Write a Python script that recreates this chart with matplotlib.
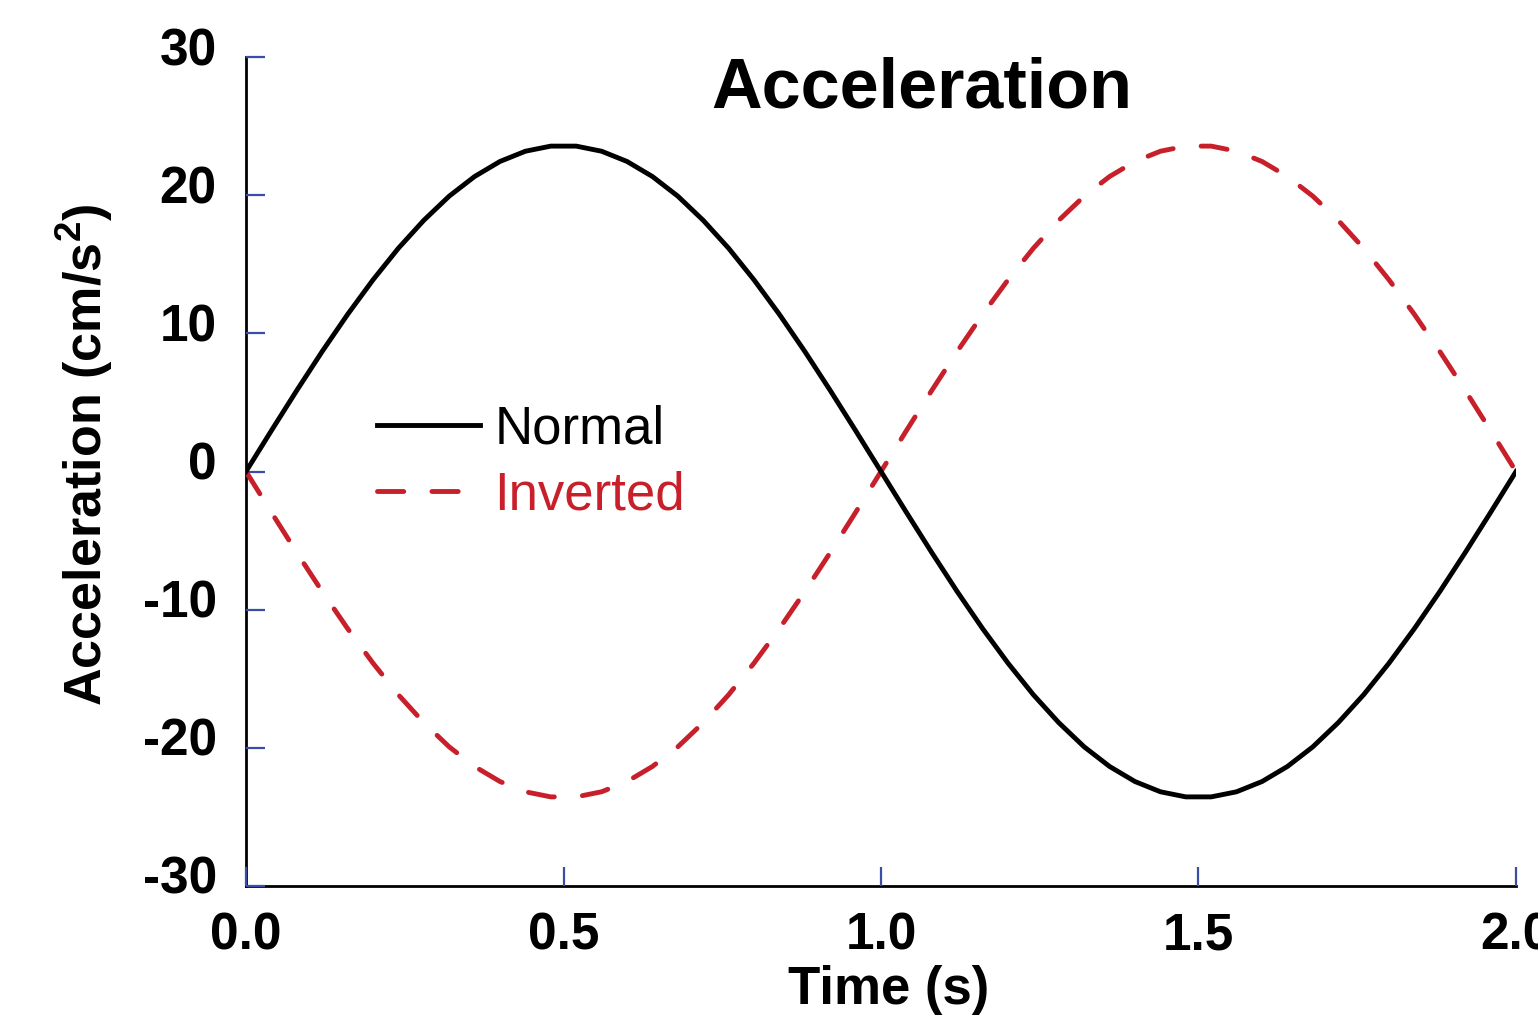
import matplotlib
matplotlib.use("Agg")
import matplotlib.pyplot as plt
import matplotlib.transforms as mtransforms

plt.rcParams['font.family'] = ['Liberation Sans', 'DejaVu Sans']
plt.rcParams['mathtext.fontset'] = 'custom'
plt.rcParams['mathtext.bf'] = 'Liberation Sans:bold'
plt.rcParams['mathtext.rm'] = 'Liberation Sans'

# ---- data ----
time = [0.00, 0.04, 0.08, 0.12, 0.16, 0.20, 0.24, 0.28, 0.32, 0.36, 0.40,
        0.44, 0.48, 0.52, 0.56, 0.60, 0.64, 0.68, 0.72, 0.76, 0.80, 0.84,
        0.88, 0.92, 0.96, 1.00, 1.04, 1.08, 1.12, 1.16, 1.20, 1.24, 1.28,
        1.32, 1.36, 1.40, 1.44, 1.48, 1.52, 1.56, 1.60, 1.64, 1.68, 1.72,
        1.76, 1.80, 1.84, 1.88, 1.92, 1.96, 2.00]
normal = [0.00, 2.96, 5.87, 8.69, 11.37, 13.87, 16.16, 18.18, 19.93, 21.35, 22.44,
          23.18, 23.55, 23.55, 23.18, 22.44, 21.35, 19.93, 18.18, 16.16, 13.87, 11.37,
          8.69, 5.87, 2.96, 0.00, -2.96, -5.87, -8.69, -11.37, -13.87, -16.16, -18.18,
          -19.93, -21.35, -22.44, -23.18, -23.55, -23.55, -23.18, -22.44, -21.35, -19.93, -18.18,
          -16.16, -13.87, -11.37, -8.69, -5.87, -2.96, 0.00]
inverted = [0.00, -2.96, -5.87, -8.69, -11.37, -13.87, -16.16, -18.18, -19.93, -21.35, -22.44,
            -23.18, -23.55, -23.55, -23.18, -22.44, -21.35, -19.93, -18.18, -16.16, -13.87, -11.37,
            -8.69, -5.87, -2.96, 0.00, 2.96, 5.87, 8.69, 11.37, 13.87, 16.16, 18.18,
            19.93, 21.35, 22.44, 23.18, 23.55, 23.55, 23.18, 22.44, 21.35, 19.93, 18.18,
            16.16, 13.87, 11.37, 8.69, 5.87, 2.96, 0.00]
xticks = [0.0, 0.5, 1.0, 1.5, 2.0]
xticklabels = ['0.0', '0.5', '1.0', '1.5', '2.0']
yticks = [-30, -20, -10, 0, 10, 20, 30]
yticklabels = ['-30', '-20', '-10', '0', '10', '20', '30']

RED = '#c8202a'
BLUE = '#3a4fa3'

fig = plt.figure(figsize=(15.38, 10.24), dpi=100)
ax = fig.add_axes([246/1538, 1-886/1024, 1270/1538, 829/1024])

ax.plot(time, normal, color='black', lw=3.5, label='Normal',
        solid_joinstyle='round', zorder=3)
ax.plot(time, inverted, color=RED, lw=3.5, label='Inverted',
        dashes=(5.4, 5.8), dash_capstyle='round', zorder=2)

ax.set_xlim(0, 2.0)
ax.set_ylim(-30, 30)
ax.set_xticks(xticks)
ax.set_xticklabels(xticklabels)
ax.set_yticks(yticks)
ax.set_yticklabels(yticklabels)

for s in ['top', 'right']:
    ax.spines[s].set_visible(False)
for s in ['left', 'bottom']:
    ax.spines[s].set_linewidth(2.0)
    ax.spines[s].set_color('black')
    ax.spines[s].set_zorder(1)

ax.tick_params(axis='both', direction='in', length=14, width=1.6, color=BLUE,
               labelsize=37)
ax.tick_params(axis='y', pad=21)
ax.tick_params(axis='x', pad=18)
shift_up = mtransforms.ScaledTranslation(0, 11/100, fig.dpi_scale_trans)
for lab in ax.get_yticklabels():
    lab.set_fontweight('bold')
    lab.set_transform(lab.get_transform() + shift_up)
for lab in ax.get_xticklabels():
    lab.set_fontweight('bold')
    lab.set_clip_on(False)

ax.set_xlabel('Time (s)', fontsize=38, fontweight='bold')
ax.xaxis.set_label_coords((889-246)/1270, -0.095)
ax.set_ylabel(r'Acceleration (cm/s$^{\mathbf{2}}$)', fontsize=37.5, fontweight='bold')
ax.yaxis.set_label_coords(-0.103, 0.52)

fig.text(922/1538, 1-90/1024, 'Acceleration', fontsize=50.5, fontweight='bold',
         ha='center', va='center')

leg = ax.legend(loc='upper left', bbox_to_anchor=((382-246)/1270 - 0.004, (886-404)/829),
                frameon=False, fontsize=38, handlelength=1.95, handletextpad=0.28,
                labelspacing=0.32, borderaxespad=0, borderpad=0)
for txt, col in zip(leg.get_texts(), ['black', RED]):
    txt.set_color(col)

fig.savefig('out.png', dpi=100)
